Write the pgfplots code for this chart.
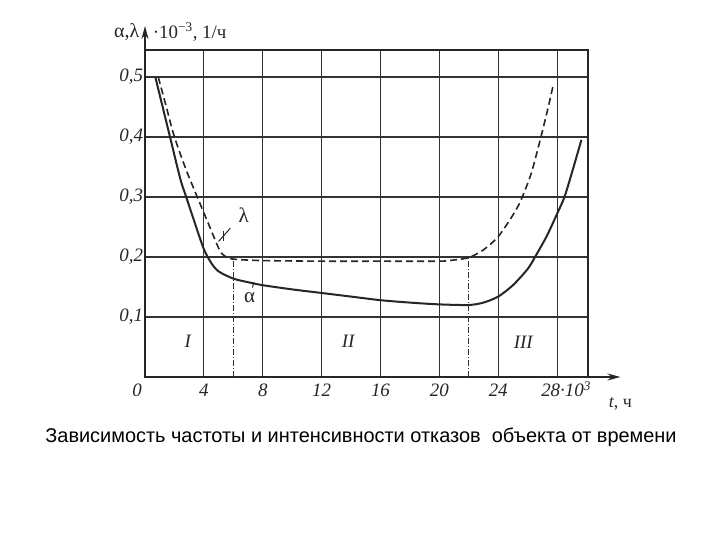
\documentclass[border=0pt]{standalone}
\usepackage{pgfplots}
\pgfplotsset{compat=1.18}
\usepackage{fontspec}
\setmainfont{Liberation Serif}
\newfontfamily\capfont{Liberation Sans}
\usetikzlibrary{arrows.meta}
\begin{document}
\begin{tikzpicture}[x=1bp,y=1bp]
\path[use as bounding box, fill=white] (0,0) rectangle (720,540);
\begin{axis}[
  at={(145bp,163bp)}, anchor=south west,
  scale only axis, width=443bp, height=327bp,
  xmin=0, xmax=30.1, ymin=0, ymax=0.545,
  xtick={0,4,...,28}, ytick={0,0.1,0.2,0.3,0.4,0.5},
  xticklabels={{\llap{0\,}},4,8,12,16,20,24,{\hspace{18bp}28·10\textsuperscript{3}}},
  yticklabels={,{0,1},{0,2},{0,3},{0,4},{0,5}},
  typeset ticklabels with strut,
  grid=major, major grid style={black!80, line width=1.2bp},
  major tick length=0pt,
  axis line style={black!85, line width=1.6bp},
  tick label style={font=\fontsize{19}{21}\selectfont\itshape, text=black!85},
  xticklabel style={yshift=-1bp},
  yticklabel style={xshift=1.5bp},
  clip=false,
]
% alpha (solid)
\addplot[black!85, line width=2bp, smooth, tension=0.45] coordinates {
(0.7,0.50) (1.7,0.40) (2.4,0.33) (2.8,0.30) (3.45,0.252) (4.0,0.213) (4.5,0.19)
(5.0,0.176) (6.0,0.164) (7,0.158) (8,0.153) (10,0.146) (12,0.140) (14,0.134)
(16,0.128) (18,0.124) (20,0.121) (22,0.120) (23,0.124) (24,0.134) (25,0.153)
(26,0.18) (26.5,0.2) (27.3,0.235) (28,0.272) (28.5,0.30) (29,0.34) (29.65,0.395)
};
% lambda (dashed)
\addplot[black!85, line width=1.6bp, dash pattern=on 7bp off 4bp, smooth, tension=0.45] coordinates {
(0.9,0.50) (1.45,0.45) (2.0,0.40) (2.8,0.345) (3.55,0.30) (4.35,0.253) (5.1,0.21)
(5.6,0.199) (6.2,0.196) (8,0.194) (12,0.193) (16,0.193) (20,0.193) (21,0.195)
(22,0.199) (23,0.212) (24,0.234) (25,0.27) (25.55,0.295) (26.25,0.34) (26.9,0.40)
(27.4,0.45) (27.75,0.488)
};
% dash-dot region boundaries
\addplot[black!80, line width=0.9bp, dash pattern=on 6bp off 2bp on 1bp off 2bp] coordinates {(6.0,0) (6.0,0.196)};
\addplot[black!80, line width=0.9bp, dash pattern=on 6bp off 2bp on 1bp off 2bp] coordinates {(22.0,0) (22.0,0.199)};
% axis arrows
\draw[-{Stealth[length=13bp,width=7bp]}, line width=1.6bp, black!85] (axis cs:0,0.545) -- (axis cs:0,0.585);
\draw[-{Stealth[length=13bp,width=7bp]}, line width=1.6bp, black!85] (axis cs:30.1,0) -- (axis cs:32.3,0);
% axis labels
\node[anchor=east, font=\fontsize{20}{22}\selectfont, text=black!85] at (axis cs:-0.15,0.575) {α,λ};
\node[anchor=west, font=\fontsize{19}{21}\selectfont, text=black!85] at (axis cs:0.3,0.575) {·10\textsuperscript{−3}, 1/ч};
\node[font=\fontsize{18}{20}\selectfont, text=black!85] at (axis cs:32.3,-0.045) {\textit{t}, ч};
% curve labels
\node[font=\fontsize{21}{23}\selectfont, text=black!85] at (axis cs:6.7,0.27) {λ};
\draw[black!85, line width=1bp] (axis cs:5.0,0.226) -- (axis cs:5.8,0.248);
\draw[black!85, line width=1bp] (axis cs:5.3,0.244) -- (axis cs:5.3,0.227);
\node[font=\fontsize{21}{23}\selectfont, text=black!85] at (axis cs:7.1,0.132) {α};
\draw[black!85, line width=1bp] (axis cs:7.4,0.158) -- (axis cs:7.3,0.149);
% region numerals
\node[font=\fontsize{19}{21}\selectfont\itshape, text=black!85] at (axis cs:2.9,0.06) {I};
\node[font=\fontsize{19}{21}\selectfont\itshape, text=black!85] at (axis cs:13.8,0.06) {II};
\node[font=\fontsize{19}{21}\selectfont\itshape, text=black!85] at (axis cs:25.7,0.058) {III};
\end{axis}
\node[font=\capfont\fontsize{20}{24}\selectfont] at (361,103) {Зависимость частоты и интенсивности отказов\ \ объекта от времени};
\end{tikzpicture}
\end{document}
